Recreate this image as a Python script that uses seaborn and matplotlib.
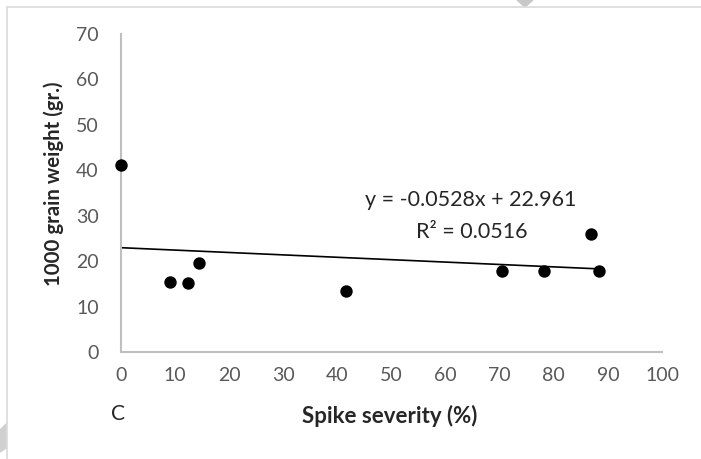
import numpy as np
import pandas as pd
import matplotlib
matplotlib.use("Agg")
import matplotlib.pyplot as plt
import seaborn as sns
from matplotlib.patches import Polygon

# data
severity = [0, 9.1, 12.4, 14.4, 41.5, 70.4, 78.1, 86.9, 88.3]
grain_weight = [41.1, 15.5, 15.2, 19.5, 13.5, 17.9, 17.9, 26.0, 17.9]
slope = -0.0528
intercept = 22.961
r2 = 0.0516
x_ticks = list(range(0, 101, 10))
y_ticks = list(range(0, 71, 10))

tabela = pd.DataFrame({"Spike severity (%)": severity,
                       "1000 grain weight (gr.)": grain_weight})

sns.set_style("white")
plt.rcParams['font.family'] = ['Lato', 'DejaVu Sans']

fig = plt.figure(figsize=(7.01, 4.59), dpi=100)
ax = fig.add_axes([121 / 701, 1 - 352 / 459, 541 / 701, 318 / 459])

sns.scatterplot(data=tabela, x="Spike severity (%)", y="1000 grain weight (gr.)",
                color="black", s=80, edgecolor="black", linewidth=0, ax=ax,
                zorder=3, clip_on=False)

# linear trendline over the data range
xs = np.array([min(severity), max(severity)])
sns.lineplot(x=xs, y=slope * xs + intercept, color="black", linewidth=1.2, ax=ax)

ax.set_xlim(0, 100)
ax.set_ylim(0, 70)
ax.set_xticks(x_ticks)
ax.set_yticks(y_ticks)
ax.tick_params(axis="both", length=0, labelsize=14, labelcolor="#595959")
ax.tick_params(axis="x", pad=11)
ax.tick_params(axis="y", pad=16)
for s in ["top", "right"]:
    ax.spines[s].set_visible(False)
for s in ["left", "bottom"]:
    ax.spines[s].set_color("#bfbfbf")
    ax.spines[s].set_linewidth(1.5)
ax.set_xlabel("")
ax.set_ylabel("")

fig.text(54 / 701, 1 - 184 / 459, "1000 grain weight (gr.)", rotation=90,
         ha="center", va="center", fontsize=14.7, fontweight="bold")
fig.text(390 / 701, 1 - 416 / 459, "Spike severity (%)", ha="center", va="center",
         fontsize=16, fontweight="bold")
fig.text(118 / 701, 1 - 414 / 459, "C", ha="center", va="center", fontsize=15)

ax.text(471 / 701, 1 - 200 / 459, f"y = {slope}x + {intercept}",
        transform=fig.transFigure, ha="center", va="center", fontsize=15.5)
ax.text(472 / 701, 1 - 232 / 459, f"R² = {r2}",
        transform=fig.transFigure, ha="center", va="center", fontsize=15.5)

# page frame and watermark bits
fig.add_artist(plt.Line2D([7 / 701, 1], [1 - 7 / 459, 1 - 7 / 459],
                          color="#d9d9d9", linewidth=1.2, transform=fig.transFigure))
fig.add_artist(plt.Line2D([7 / 701, 7 / 701], [0, 1 - 7 / 459],
                          color="#d9d9d9", linewidth=1.2, transform=fig.transFigure))
fig.add_artist(Polygon([[517 / 701, 1], [533 / 701, 1], [525 / 701, 1 - 7 / 459]],
                       closed=True, color="#c8c8c8", transform=fig.transFigure))
fig.add_artist(Polygon([[0, 1 - 430 / 459], [6 / 701, 1 - 424 / 459],
                        [6 / 701, 1 - 448 / 459], [0, 1 - 452 / 459]],
                       closed=True, color="#d0d0d0", transform=fig.transFigure))

fig.savefig("out.png", dpi=100)
